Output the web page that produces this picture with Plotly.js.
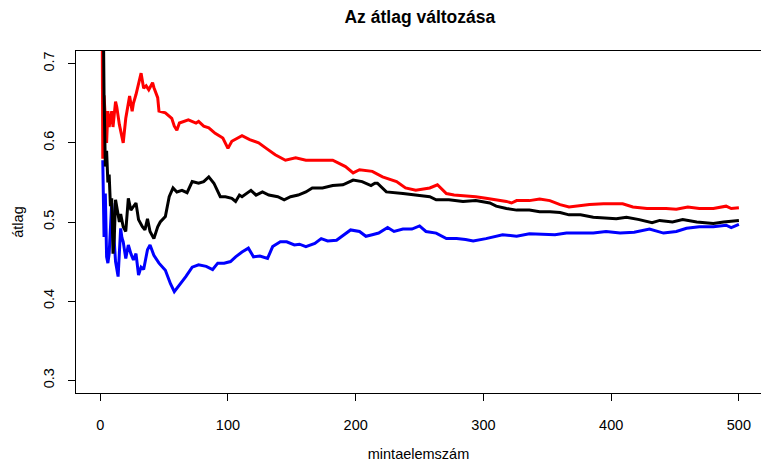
<!DOCTYPE html>
<html>
<head>
<meta charset="utf-8">
<script src="https://cdn.plot.ly/plotly-3.0.1.min.js"></script>
<style>html,body{margin:0;padding:0;background:#fff;}</style>
</head>
<body>
<div id="chart" style="width:761px;height:462px;"></div>
<script>
// Running mean (black) and its upper (red) / lower (blue) bands
const redN = [1, 2, 3, 4, 5, 6, 7, 9, 10, 12, 13, 15, 17, 18, 20, 23, 25, 26, 28, 30, 32, 34, 36, 38, 41, 42, 45, 46, 51, 56, 58, 60, 62, 69, 75, 77, 81, 85, 90, 96, 100, 103, 111, 117, 124, 130, 137, 145, 153, 161, 171, 182, 187, 192, 198, 203, 213, 218, 221, 232, 239, 247, 258, 264, 271, 277, 286, 294, 302, 310, 318, 322, 326, 336, 344, 352, 360, 367, 383, 394, 409, 417, 428, 443, 451, 460, 469, 480, 490, 494, 500];
const redY = [0.95, 0.58, 0.66, 0.63, 0.60, 0.64, 0.62, 0.64, 0.62, 0.652, 0.645, 0.623, 0.610, 0.600, 0.631, 0.659, 0.640, 0.65, 0.661, 0.673, 0.688, 0.669, 0.672, 0.667, 0.676, 0.67, 0.657, 0.640, 0.638, 0.631, 0.621, 0.616, 0.625, 0.629, 0.625, 0.627, 0.621, 0.619, 0.612, 0.606, 0.593, 0.602, 0.609, 0.604, 0.600, 0.593, 0.585, 0.578, 0.581, 0.578, 0.578, 0.578, 0.574, 0.570, 0.562, 0.566, 0.564, 0.559, 0.557, 0.551, 0.543, 0.540, 0.543, 0.547, 0.536, 0.534, 0.533, 0.532, 0.530, 0.528, 0.526, 0.524, 0.527, 0.527, 0.529, 0.527, 0.522, 0.519, 0.522, 0.523, 0.523, 0.519, 0.517, 0.517, 0.516, 0.519, 0.517, 0.517, 0.520, 0.517, 0.518];

const blackN = [1, 2, 3, 4, 5, 6, 7, 8, 9, 10, 11, 12, 13, 15, 16, 18, 20, 22, 24, 26, 28, 30, 33, 35, 37, 39, 42, 45, 47, 51, 54, 57, 60, 64, 68, 72, 77, 81, 85, 89, 94, 98, 103, 106, 109, 111, 118, 122, 127, 132, 139, 144, 149, 155, 161, 166, 174, 182, 190, 198, 205, 212, 215, 217, 224, 237, 250, 258, 263, 273, 284, 294, 305, 310, 318, 326, 336, 344, 352, 360, 367, 376, 386, 396, 404, 412, 422, 432, 438, 448, 456, 467, 475, 480, 488, 494, 500];
const blackY = [1.0, 0.78, 0.66, 0.57, 0.59, 0.55, 0.56, 0.52, 0.53, 0.46, 0.48, 0.528, 0.52, 0.50, 0.51, 0.494, 0.488, 0.530, 0.515, 0.519, 0.524, 0.503, 0.494, 0.490, 0.504, 0.488, 0.479, 0.494, 0.500, 0.507, 0.532, 0.543, 0.538, 0.540, 0.537, 0.551, 0.549, 0.551, 0.557, 0.549, 0.532, 0.532, 0.530, 0.526, 0.534, 0.532, 0.540, 0.534, 0.538, 0.534, 0.532, 0.528, 0.532, 0.534, 0.538, 0.543, 0.543, 0.546, 0.547, 0.553, 0.551, 0.546, 0.549, 0.549, 0.538, 0.536, 0.534, 0.532, 0.528, 0.528, 0.526, 0.527, 0.524, 0.520, 0.517, 0.515, 0.515, 0.513, 0.513, 0.512, 0.509, 0.509, 0.506, 0.505, 0.504, 0.506, 0.503, 0.499, 0.502, 0.500, 0.503, 0.500, 0.499, 0.498, 0.500, 0.501, 0.502];

const blueN = [2, 3, 4, 5, 6, 7, 9, 10, 11, 12, 14, 16, 17, 18, 20, 22, 24, 26, 28, 30, 32, 34, 37, 39, 42, 46, 51, 55, 58, 62, 67, 72, 77, 83, 88, 92, 97, 102, 106, 111, 116, 120, 125, 131, 135, 141, 146, 152, 156, 161, 168, 173, 178, 185, 191, 196, 203, 208, 213, 218, 225, 230, 237, 244, 250, 255, 263, 271, 279, 286, 292, 302, 315, 326, 336, 347, 356, 365, 376, 386, 396, 407, 418, 430, 441, 451, 459, 469, 480, 490, 494, 500];
const blueY = [0.578, 0.481, 0.536, 0.456, 0.448, 0.46, 0.524, 0.50, 0.47, 0.45, 0.431, 0.492, 0.480, 0.475, 0.454, 0.471, 0.460, 0.452, 0.460, 0.433, 0.443, 0.440, 0.465, 0.471, 0.458, 0.448, 0.439, 0.422, 0.412, 0.420, 0.431, 0.443, 0.446, 0.444, 0.440, 0.448, 0.448, 0.450, 0.456, 0.462, 0.467, 0.456, 0.457, 0.454, 0.469, 0.475, 0.475, 0.471, 0.472, 0.469, 0.473, 0.479, 0.476, 0.477, 0.484, 0.490, 0.488, 0.482, 0.484, 0.486, 0.493, 0.488, 0.491, 0.491, 0.495, 0.488, 0.486, 0.479, 0.479, 0.478, 0.476, 0.479, 0.484, 0.482, 0.485, 0.484, 0.484, 0.486, 0.486, 0.486, 0.488, 0.486, 0.487, 0.491, 0.486, 0.488, 0.492, 0.494, 0.494, 0.496, 0.493, 0.497];

const xTicks = [0, 100, 200, 300, 400, 500];
const yTicks = [0.3, 0.4, 0.5, 0.6, 0.7];
const yTickText = ["0.3", "0.4", "0.5", "0.6", "0.7"];

const FONT = "Liberation Sans, Arial, sans-serif";

const traces = [
  {x: redN, y: redY, type: "scatter", mode: "lines", line: {color: "#ff0000", width: 3}, name: "felső"},
  {x: blueN, y: blueY, type: "scatter", mode: "lines", line: {color: "#0000ff", width: 3}, name: "alsó"},
  {x: blackN, y: blackY, type: "scatter", mode: "lines", line: {color: "#000000", width: 3}, name: "átlag"}
];

const layout = {
  width: 761, height: 462,
  margin: {l: 76, r: 0, t: 51, b: 69, pad: 0},
  paper_bgcolor: "#ffffff", plot_bgcolor: "#ffffff",
  showlegend: false,
  font: {family: FONT, color: "#000", size: 14.5},
  title: {
    text: "Az átlag változása",
    font: {family: FONT, size: 17.5, weight: 700, color: "#000"},
    xref: "paper", x: 0.502, xanchor: "center",
    yref: "container", y: 1 - 17/462, yanchor: "middle"
  },
  xaxis: {
    range: [-18.96, 517.3],
    tickmode: "array", tickvals: xTicks,
    ticks: "outside", ticklen: 7, tickwidth: 1, tickcolor: "#000",
    showline: true, mirror: true, linecolor: "#000", linewidth: 1,
    showgrid: false, zeroline: false,
    tickfont: {family: FONT, size: 14.5, color: "#000"},
    ticklabelstandoff: 12,
    title: {text: "mintaelemszám", font: {family: FONT, size: 14.5, color: "#000"}, standoff: 17}
  },
  yaxis: {
    range: [0.284, 0.716],
    tickmode: "array", tickvals: yTicks, ticktext: yTickText,
    tickangle: -90,
    ticks: "outside", ticklen: 7, tickwidth: 1, tickcolor: "#000",
    showline: true, mirror: false, linecolor: "#000", linewidth: 1,
    showgrid: false, zeroline: false,
    tickfont: {family: FONT, size: 14.5, color: "#000"},
    ticklabelstandoff: 8,
    title: {text: "átlag", font: {family: FONT, size: 14.5, color: "#000"}, standoff: 14}
  }
};

Plotly.newPlot("chart", traces, layout, {staticPlot: true, displayModeBar: false});
</script>
</body>
</html>
